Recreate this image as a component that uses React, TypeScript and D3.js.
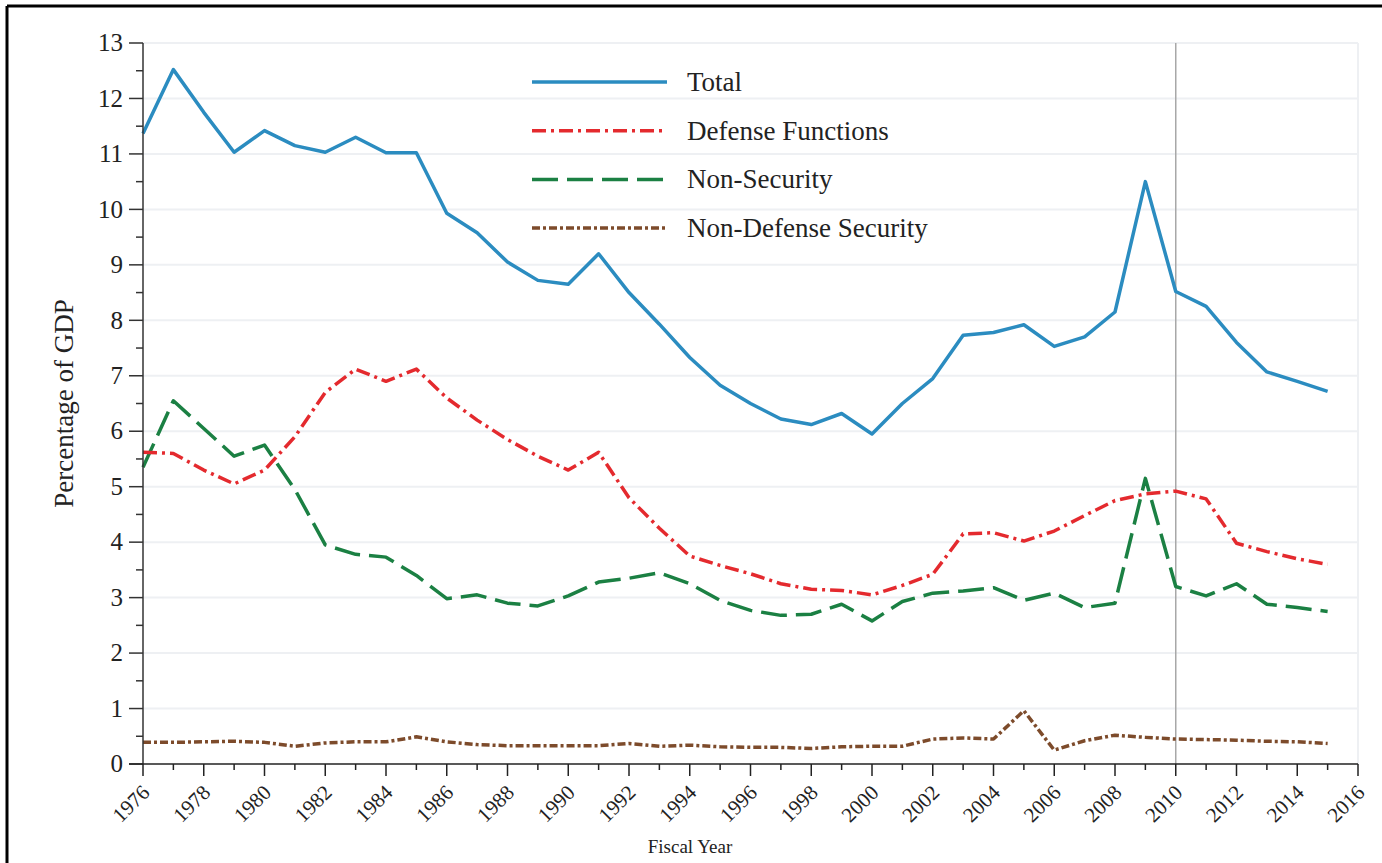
import React from "react";
import * as d3 from "d3";

const years = d3.range(1976, 2016);

const total = [11.37, 12.52, 11.75, 11.03, 11.42, 11.15, 11.03, 11.3, 11.02, 11.02,
  9.93, 9.58, 9.05, 8.72, 8.65, 9.2, 8.5, 7.93, 7.33, 6.83,
  6.5, 6.22, 6.12, 6.32, 5.95, 6.5, 6.95, 7.73, 7.78, 7.92,
  7.53, 7.7, 8.15, 10.5, 8.52, 8.25, 7.6, 7.07, 6.9, 6.72];

const defense = [5.62, 5.6, 5.3, 5.05, 5.3, 5.9, 6.7, 7.12, 6.9, 7.12,
  6.6, 6.2, 5.85, 5.55, 5.3, 5.62, 4.8, 4.25, 3.75, 3.58,
  3.43, 3.25, 3.15, 3.13, 3.05, 3.22, 3.42, 4.15, 4.17, 4.02,
  4.2, 4.48, 4.75, 4.87, 4.92, 4.78, 3.98, 3.83, 3.7, 3.6];

const nonSecurity = [5.35, 6.55, 6.05, 5.55, 5.75, 4.95, 3.95, 3.78, 3.73, 3.4,
  2.98, 3.05, 2.9, 2.85, 3.03, 3.28, 3.35, 3.45, 3.25, 2.95,
  2.77, 2.68, 2.7, 2.88, 2.58, 2.93, 3.08, 3.12, 3.18, 2.95,
  3.08, 2.82, 2.9, 5.15, 3.2, 3.03, 3.25, 2.88, 2.82, 2.75];

const nonDefenseSecurity = [0.39, 0.39, 0.4, 0.41, 0.39, 0.32, 0.38, 0.4, 0.4, 0.49,
  0.4, 0.35, 0.33, 0.33, 0.33, 0.33, 0.37, 0.32, 0.34, 0.31,
  0.3, 0.3, 0.28, 0.31, 0.32, 0.32, 0.45, 0.47, 0.45, 0.96,
  0.25, 0.42, 0.52, 0.48, 0.45, 0.44, 0.43, 0.41, 0.4, 0.37];

const seriesNames = ["Total", "Defense Functions", "Non-Security", "Non-Defense Security"];

const series = [
  { name: seriesNames[0], values: total, color: "#2b8cc0", dash: "none" },
  { name: seriesNames[1], values: defense, color: "#e42a2e", dash: "14,5,3,5" },
  { name: seriesNames[2], values: nonSecurity, color: "#1b8043", dash: "26,9" },
  { name: seriesNames[3], values: nonDefenseSecurity, color: "#7d4b2b", dash: "8,3,3,3" },
];

const W = 1382;
const H = 863;
const margin = { left: 143, right: 1358, top: 43, bottom: 764 };
const FONT = "'Liberation Serif', 'Times New Roman', serif";

export default function App() {
  const x = d3.scaleLinear().domain([1976, 2016]).range([margin.left, margin.right]);
  const y = d3.scaleLinear().domain([0, 13]).range([margin.bottom, margin.top]);

  const line = d3.line<number>()
    .x((_, i) => x(years[i]))
    .y((d) => y(d));

  const yMajor = d3.range(0, 14);
  const yMinor = d3.range(0.5, 13, 1);
  const xTicks = d3.range(1976, 2017);

  return (
    <svg width={W} height={H} style={{ position: "absolute", left: 0, top: 0, background: "#fff" }}>
      {/* outer frame */}
      <line x1={7} x2={W} y1={6} y2={6} stroke="#000" strokeWidth={3} />
      <line x1={7} x2={7} y1={6} y2={H} stroke="#000" strokeWidth={3} />

      {/* grid */}
      {yMajor.slice(1).map((v) => (
        <line key={v} x1={margin.left} x2={margin.right} y1={y(v)} y2={y(v)} stroke="#eef0f3" strokeWidth={2} />
      ))}
      <line x1={margin.right} x2={margin.right} y1={margin.top} y2={margin.bottom} stroke="#eef0f3" strokeWidth={2} />
      <line x1={x(2010)} x2={x(2010)} y1={margin.top} y2={margin.bottom} stroke="#a8a8a8" strokeWidth={1.5} />

      {/* series */}
      {series.slice().reverse().map((s) => (
        <path key={s.name} d={line(s.values) || ""} fill="none" stroke={s.color}
          strokeWidth={3.5} strokeDasharray={s.dash} strokeLinejoin="round" />
      ))}

      {/* y axis */}
      <line x1={margin.left} x2={margin.left} y1={margin.top} y2={margin.bottom} stroke="#333" strokeWidth={1.5} />
      {yMajor.map((v) => (
        <g key={v}>
          <line x1={margin.left - 14} x2={margin.left} y1={y(v)} y2={y(v)} stroke="#333" strokeWidth={1.5} />
          <text x={123} y={y(v)} dy="0.33em" textAnchor="end" fontFamily={FONT} fontSize={25} fill="#222">{v}</text>
        </g>
      ))}
      {yMinor.map((v) => (
        <line key={v} x1={margin.left - 7} x2={margin.left} y1={y(v)} y2={y(v)} stroke="#333" strokeWidth={1.5} />
      ))}

      {/* x axis */}
      <line x1={margin.left - 14} x2={margin.right} y1={margin.bottom} y2={margin.bottom} stroke="#222" strokeWidth={1.5} />
      {xTicks.map((yr) => (
        <line key={yr} x1={x(yr)} x2={x(yr)} y1={margin.bottom} y2={margin.bottom + (yr % 2 === 0 ? 12 : 6)} stroke="#222" strokeWidth={1.5} />
      ))}
      {xTicks.filter((yr) => yr % 2 === 0).map((yr) => (
        <text key={yr} transform={`translate(${x(yr) - 2},${margin.bottom + 20}) rotate(-45)`}
          textAnchor="end" dy="0.66em" fontFamily={FONT} fontSize={21} fill="#222">{yr}</text>
      ))}

      {/* axis titles */}
      <text transform={`translate(73,${(margin.top + margin.bottom) / 2}) rotate(-90)`} textAnchor="middle"
        fontFamily={FONT} fontSize={27} fill="#222">Percentage of GDP</text>
      <text x={690} y={853} textAnchor="middle" fontFamily={FONT} fontSize={19} fill="#222">Fiscal Year</text>

      {/* legend */}
      {series.map((s, i) => {
        const ly = 82 + i * 48.7;
        return (
          <g key={s.name}>
            <line x1={532} x2={667} y1={ly} y2={ly} stroke={s.color} strokeWidth={3.5} strokeDasharray={s.dash} />
            <text x={687} y={ly} dy="0.33em" fontFamily={FONT} fontSize={27} fill="#222">{s.name}</text>
          </g>
        );
      })}
    </svg>
  );
}
